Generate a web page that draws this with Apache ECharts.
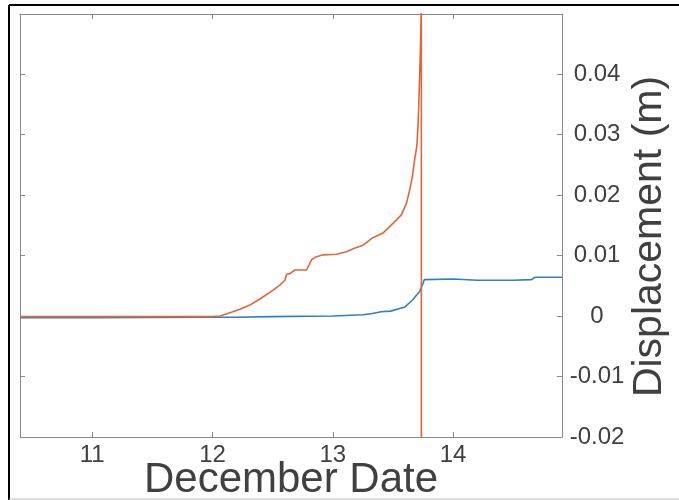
<!DOCTYPE html>
<html>
<head>
<meta charset="utf-8">
<script src="https://cdn.jsdelivr.net/npm/echarts@6/dist/echarts.min.js"></script>
<style>
  html, body { margin: 0; padding: 0; background: #fff; }
  #chart { width: 679px; height: 500px; }
</style>
</head>
<body>
<div id="chart"></div>
<script>
// December date (day) vs displacement (m)
var redDates = [10.40, 11.0, 11.5, 12.0, 12.062, 12.145, 12.228, 12.311, 12.394, 12.477, 12.560, 12.602,
  12.616, 12.643, 12.685, 12.782, 12.824, 12.865, 12.920, 13.031, 13.114, 13.169, 13.252, 13.321,
  13.417, 13.500, 13.570, 13.612, 13.639, 13.661, 13.680, 13.699, 13.707, 13.714, 13.720, 13.726,
  13.731, 13.734, 13.736, 13.736]
var redDisp = [-0.0001, -0.0001, -0.0001, -0.0001, 0.0, 0.00055, 0.0011, 0.0018, 0.0028, 0.0039, 0.0051, 0.0059,
  0.0069, 0.0070, 0.0076, 0.0076, 0.0093, 0.0098, 0.0101, 0.0102, 0.0106, 0.0111, 0.0117, 0.0128,
  0.0137, 0.0153, 0.0167, 0.0186, 0.0208, 0.0230, 0.0258, 0.0282, 0.0310, 0.0345, 0.0385, 0.0425,
  0.0465, 0.0500, 0.0800, -0.0500]

var blueDates = [10.40, 11.0, 12.0, 12.2, 12.5, 13.0, 13.25, 13.33, 13.40, 13.48, 13.60, 13.66, 13.72,
  13.75, 13.76, 14.0, 14.2, 14.5, 14.65, 14.68, 14.905]
var blueDisp = [-0.0003, -0.0003, -0.0002, -0.0002, -0.0001, 0.0, 0.0002, 0.0004, 0.0007, 0.0008, 0.0015,
  0.0026, 0.0040, 0.0054, 0.0060, 0.0061, 0.0059, 0.0059, 0.0060, 0.0064, 0.0064]

var xTickValues = [11, 12, 13, 14]
var yTickValues = [-0.02, -0.01, 0, 0.01, 0.02, 0.03, 0.04]

function zip(xs, ys) {
  return xs.map(function (x, i) { return [x, ys[i]] })
}

var font = 'Liberation Sans, Arial, Helvetica, sans-serif'
var axisGrey = '#8a8a8a'
var textGrey = '#404040'

var chart = echarts.init(document.getElementById('chart'))

var option = {
  backgroundColor: '#ffffff',
  animation: false,
  grid: { left: 20, right: 117, top: 14, bottom: 63, containLabel: false, outerBoundsMode: 'none' },
  xAxis: [{
    type: 'value',
    position: 'bottom',
    min: 10.4,
    max: 14.905,
    name: 'December Date',
    nameLocation: 'middle',
    nameGap: 22,
    nameMoveOverlap: false,
    nameTextStyle: { fontFamily: font, fontSize: 42, color: textGrey },
    axisLine: { show: true, onZero: false, lineStyle: { color: axisGrey, width: 1 } },
    axisTick: { show: true, inside: true, length: 5, customValues: xTickValues, lineStyle: { color: axisGrey } },
    axisLabel: { customValues: xTickValues, fontFamily: font, fontSize: 24, color: textGrey, margin: 6 },
    splitLine: { show: false }
  }, {
    type: 'value',
    position: 'top',
    min: 10.4,
    max: 14.905,
    axisLine: { show: true, onZero: false, lineStyle: { color: axisGrey, width: 1 } },
    axisTick: { show: true, inside: true, length: 5, customValues: xTickValues, lineStyle: { color: axisGrey } },
    axisLabel: { show: false },
    splitLine: { show: false }
  }],
  yAxis: [{
    type: 'value',
    position: 'right',
    min: -0.02,
    max: 0.0499,
    name: 'Displacement (m)',
    nameLocation: 'middle',
    nameRotate: 90,
    nameGap: 67,
    nameMoveOverlap: false,
    nameTextStyle: { fontFamily: font, fontSize: 41, color: textGrey, padding: [0, 22, 0, 0] },
    axisLine: { show: true, onZero: false, lineStyle: { color: axisGrey, width: 1 } },
    axisTick: { show: true, inside: true, length: 5, customValues: yTickValues, lineStyle: { color: axisGrey } },
    axisLabel: {
      customValues: yTickValues,
      fontFamily: font, fontSize: 24, color: textGrey,
      align: 'center', margin: 35,
      formatter: function (v) { return String(Math.round(v * 100) / 100) }
    },
    splitLine: { show: false }
  }, {
    type: 'value',
    position: 'left',
    min: -0.02,
    max: 0.0499,
    axisLine: { show: true, onZero: false, lineStyle: { color: axisGrey, width: 1 } },
    axisTick: { show: true, inside: true, length: 5, customValues: yTickValues, lineStyle: { color: axisGrey } },
    axisLabel: { show: false },
    splitLine: { show: false }
  }],
  graphic: [
    { type: 'line', shape: { x1: 9, y1: 5, x2: 679, y2: 5 }, style: { stroke: '#000', lineWidth: 2 } },
    { type: 'line', shape: { x1: 9, y1: 5, x2: 9, y2: 500 }, style: { stroke: '#000', lineWidth: 2 } },
    { type: 'line', shape: { x1: 9, y1: 499, x2: 679, y2: 499 }, style: { stroke: '#bbbbbb', lineWidth: 1 } }
  ],
  series: [{
    name: 'blue',
    type: 'line',
    xAxisIndex: 0,
    yAxisIndex: 0,
    showSymbol: false,
    clip: true,
    lineStyle: { color: '#2f7fc1', width: 1.6 },
    data: zip(blueDates, blueDisp)
  }, {
    name: 'red',
    type: 'line',
    xAxisIndex: 0,
    yAxisIndex: 0,
    showSymbol: false,
    clip: true,
    lineStyle: { color: '#e0663a', width: 1.6 },
    data: zip(redDates, redDisp)
  }]
}

chart.setOption(option)
</script>
</body>
</html>
